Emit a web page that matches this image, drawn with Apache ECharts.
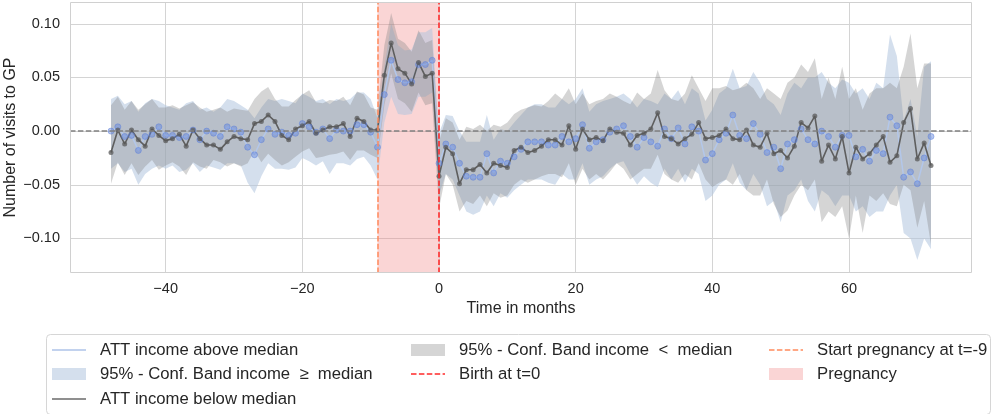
<!DOCTYPE html>
<html>
<head>
<meta charset="utf-8">
<script src="https://cdn.jsdelivr.net/npm/echarts@6/dist/echarts.min.js"></script>
<style>
  html, body { margin: 0; padding: 0; background: #fff; }
  #main { width: 994px; height: 414px; }
</style>
</head>
<body>
<div id="main"></div>
<script>
// months relative to birth, -48 .. 72
var firstMonth = -48, lastMonth = 72;
var months = [];
for (var m = firstMonth; m <= lastMonth; m++) months.push(m);

var xTicks = [-40, -20, 0, 20, 40, 60];
var yTicks = [-0.10, -0.05, 0.00, 0.05, 0.10];

// ATT income above median (blue)
var aboveAtt = [
  0.000, 0.004, -0.005, -0.004, -0.018, -0.005, -0.003, 0.004, -0.004, -0.004,
  -0.006, -0.005, 0.001, -0.008, 0.000, -0.002, -0.005, 0.004, 0.002, -0.001,
  -0.015, -0.022, -0.008, 0.002, -0.003, -0.001, -0.004, -0.002, 0.007, 0.004,
  -0.001, 0.002, -0.007, 0.001, 0.000, 0.000, 0.006, 0.006, -0.001, -0.015,
  0.034, 0.066, 0.048, 0.045, 0.046, 0.062, 0.062, 0.066, -0.030, -0.012,
  -0.015, -0.030, -0.042, -0.043, -0.043, -0.021, -0.039, -0.028, -0.030, -0.024,
  -0.017, -0.010, -0.010, -0.010, -0.013, -0.013, -0.005, -0.010, -0.007, 0.006,
  -0.016, -0.010, -0.008, -0.001, 0.002, 0.005, -0.005, -0.015, -0.006, -0.010,
  -0.014, 0.002, -0.007, 0.003, -0.012, 0.004, 0.000, -0.027, -0.021, -0.008,
  -0.002, 0.015, -0.004, -0.007, 0.007, -0.003, -0.020, -0.015, -0.035, -0.012,
  -0.008, 0.002, -0.008, -0.012, 0.000, -0.005, -0.015, -0.004, -0.004, -0.024,
  -0.017, -0.028, -0.018, -0.021, 0.013, 0.005, -0.043, -0.038, -0.049, -0.025,
  -0.005
];
var aboveHi = [
  0.030, 0.033, 0.025, 0.028, 0.018, 0.026, 0.030, 0.028, 0.024, 0.022,
  0.020, 0.026, 0.028, 0.020, 0.022, 0.018, 0.022, 0.030, 0.028, 0.024,
  0.020, 0.012, 0.022, 0.030, 0.028, 0.030, 0.028, 0.026, 0.035, 0.032,
  0.028, 0.030, 0.025, 0.030, 0.028, 0.030, 0.036, 0.036, 0.030, 0.012,
  0.060, 0.100, 0.080, 0.075, 0.076, 0.092, 0.092, 0.096, -0.002, 0.015,
  0.014, 0.000, -0.010, -0.010, -0.010, 0.015, -0.008, 0.002, 0.000, 0.008,
  0.015, 0.022, 0.025, 0.025, 0.022, 0.022, 0.030, 0.025, 0.030, 0.040,
  0.018, 0.025, 0.028, 0.030, 0.032, 0.035, 0.030, 0.022, 0.030, 0.028,
  0.025, 0.035, 0.030, 0.038, 0.025, 0.040, 0.035, 0.010, 0.020, 0.035,
  0.040, 0.058, 0.040, 0.042, 0.055, 0.045, 0.030, 0.025, 0.015, 0.035,
  0.045, 0.040, 0.050, 0.050, 0.055, 0.045, 0.040, 0.048, 0.045, 0.035,
  0.040, 0.030, 0.045, 0.040, 0.090, 0.070, 0.010, 0.030, -0.005, 0.060,
  0.065
];
var aboveLo = [
  -0.035, -0.030, -0.038, -0.035, -0.050, -0.040, -0.035, -0.032, -0.035, -0.032,
  -0.038, -0.036, -0.030, -0.038, -0.032, -0.034, -0.036, -0.030, -0.030, -0.032,
  -0.048, -0.058, -0.042, -0.030, -0.035, -0.035, -0.036, -0.034, -0.025, -0.028,
  -0.032, -0.028, -0.040, -0.030, -0.030, -0.032, -0.026, -0.024, -0.032, -0.045,
  0.008, 0.032, 0.016, 0.015, 0.016, 0.032, 0.032, 0.036, -0.060, -0.040,
  -0.045, -0.060, -0.075, -0.078, -0.075, -0.060, -0.070, -0.058, -0.062, -0.055,
  -0.050, -0.045, -0.045, -0.045, -0.048, -0.050, -0.040, -0.045, -0.045, -0.030,
  -0.050, -0.045, -0.042, -0.035, -0.030, -0.028, -0.040, -0.050, -0.042, -0.048,
  -0.052, -0.035, -0.045, -0.035, -0.048, -0.035, -0.040, -0.065, -0.060, -0.050,
  -0.045, -0.030, -0.048, -0.055, -0.040, -0.050, -0.070, -0.065, -0.085, -0.060,
  -0.055, -0.045, -0.065, -0.075, -0.055, -0.060, -0.070, -0.060, -0.060, -0.075,
  -0.070, -0.080, -0.075, -0.075, -0.060, -0.050, -0.095, -0.100, -0.120, -0.100,
  -0.110
];

// ATT income below median (grey)
var belowAtt = [
  -0.020, 0.001, -0.012, 0.001, -0.008, -0.014, 0.002, -0.004, -0.009, -0.007,
  -0.003, -0.014, 0.001, -0.007, -0.013, -0.013, -0.017, -0.010, -0.005, -0.007,
  -0.008, 0.007, 0.009, 0.015, 0.009, -0.004, -0.008, 0.002, 0.005, 0.009,
  -0.002, 0.001, 0.004, 0.004, 0.007, -0.005, 0.012, 0.009, 0.001, 0.001,
  0.052, 0.082, 0.058, 0.054, 0.044, 0.064, 0.051, 0.054, -0.042, -0.015,
  -0.021, -0.049, -0.036, -0.036, -0.031, -0.039, -0.030, -0.032, -0.034, -0.018,
  -0.015, -0.020, -0.018, -0.014, -0.008, -0.008, -0.013, 0.005, -0.017, 0.002,
  -0.008, -0.006, -0.009, 0.002, -0.001, -0.002, -0.013, -0.004, -0.002, 0.002,
  0.017, -0.005, -0.007, -0.012, -0.007, -0.003, 0.008, -0.007, -0.006, -0.004,
  0.002, -0.007, -0.008, 0.001, -0.013, -0.015, -0.002, -0.021, -0.018, -0.025,
  -0.014, 0.008, 0.003, 0.014, -0.028, -0.013, -0.026, -0.005, -0.039, -0.015,
  -0.026, -0.021, -0.013, -0.005, -0.029, -0.023, 0.008, 0.021, -0.026, -0.011,
  -0.032
];
var belowHi = [
  0.024, 0.032, 0.020, 0.028, 0.020, 0.025, 0.030, 0.022, 0.022, 0.024,
  0.021, 0.024, 0.027, 0.022, 0.018, 0.020, 0.022, 0.018, 0.021, 0.020,
  0.019, 0.030, 0.037, 0.041, 0.030, 0.023, 0.023, 0.029, 0.034, 0.038,
  0.027, 0.026, 0.029, 0.028, 0.032, 0.024, 0.037, 0.034, 0.022, 0.020,
  0.080, 0.110, 0.086, 0.082, 0.074, 0.094, 0.082, 0.085, -0.010, 0.012,
  0.008, -0.008, 0.004, 0.002, 0.006, 0.000, 0.006, 0.004, 0.008, 0.016,
  0.020, 0.022, 0.024, 0.023, 0.028, 0.035, 0.030, 0.040, 0.025, 0.035,
  0.025, 0.028, 0.030, 0.035, 0.032, 0.028, 0.025, 0.036, 0.030, 0.035,
  0.057, 0.038, 0.030, 0.028, 0.035, 0.052, 0.040, 0.028, 0.040, 0.040,
  0.042, 0.038, 0.040, 0.045, 0.040, 0.030, 0.040, 0.035, 0.030, 0.045,
  0.050, 0.062, 0.055, 0.068, 0.030, 0.050, 0.030, 0.060, 0.030, 0.040,
  0.020, 0.035, 0.040, 0.040, 0.045, 0.040, 0.060, 0.091, 0.040, 0.063,
  0.063
];
var belowLo = [
  -0.049, -0.029, -0.041, -0.030, -0.041, -0.033, -0.027, -0.036, -0.032, -0.029,
  -0.033, -0.041, -0.029, -0.033, -0.035, -0.027, -0.029, -0.033, -0.030, -0.033,
  -0.030, -0.018, -0.029, -0.021, -0.027, -0.032, -0.029, -0.024, -0.019, -0.016,
  -0.025, -0.024, -0.022, -0.021, -0.019, -0.027, -0.018, -0.018, -0.022, -0.025,
  0.024, 0.054, 0.030, 0.026, 0.018, 0.036, 0.024, 0.026, -0.072, -0.040,
  -0.050, -0.075, -0.065, -0.068, -0.060, -0.070, -0.058, -0.062, -0.060, -0.050,
  -0.045, -0.048, -0.045, -0.042, -0.040, -0.040, -0.043, -0.030, -0.050, -0.035,
  -0.045, -0.040, -0.045, -0.038, -0.030, -0.035, -0.045, -0.040, -0.035, -0.035,
  -0.022, -0.040, -0.045, -0.048, -0.040, -0.045, -0.030, -0.045, -0.052, -0.048,
  -0.045, -0.050, -0.040, -0.055, -0.060, -0.060, -0.045, -0.068, -0.080, -0.074,
  -0.060, -0.050, -0.055, -0.045, -0.085, -0.075, -0.080, -0.070, -0.100, -0.060,
  -0.095, -0.060, -0.065, -0.058, -0.068, -0.070, -0.050, -0.055, -0.090, -0.065,
  -0.106
];

var pregStart = -9, birth = 0;

var FONT = '"Liberation Sans", Arial, sans-serif';
var blueFill = 'rgba(176,196,222,0.55)';
var greyFill = 'rgba(128,128,128,0.33)';
var pinkFill = 'rgba(240,128,128,0.33)';

function pairs(vals) {
  return months.map(function (t, i) { return [t, vals[i]]; });
}

// one polygon for a whole confidence band
function bandSeries(name, lo, hi, fill) {
  return {
    name: name,
    type: 'custom',
    silent: true,
    data: months.map(function (t, i) { return [t, lo[i], hi[i]]; }),
    encode: { x: 0, y: [1, 2] },
    renderItem: function (params, api) {
      if (params.dataIndex !== 0) return null;
      var pts = [];
      for (var i = 0; i < months.length; i++) pts.push(api.coord([months[i], hi[i]]));
      for (var j = months.length - 1; j >= 0; j--) pts.push(api.coord([months[j], lo[j]]));
      return { type: 'polygon', shape: { points: pts }, style: { fill: fill } };
    }
  };
}

function fmt(v) {
  return v.toFixed(2).replace('-', '\u2212');
}

// legend (matplotlib style, 3 columns, column-major)
var LX = [52, 411, 769];
var LY = [350, 374, 399];
var legendItems = [
  { col: 0, row: 0, kind: 'line', color: '#aec3e8', text: 'ATT income above median' },
  { col: 0, row: 1, kind: 'patch', color: blueFill, text: '95% - Conf. Band income  \u2265  median' },
  { col: 0, row: 2, kind: 'line', color: '#6a6a6a', text: 'ATT income below median' },
  { col: 1, row: 0, kind: 'patch', color: greyFill, text: '95% - Conf. Band income  <  median' },
  { col: 1, row: 1, kind: 'dash', color: '#ff2a2a', text: 'Birth at t=0' },
  { col: 2, row: 0, kind: 'dash', color: '#ff8a5c', text: 'Start pregnancy at t=-9' },
  { col: 2, row: 1, kind: 'patch', color: pinkFill, text: 'Pregnancy' }
];
var legendGraphics = [{
  type: 'rect', silent: true,
  shape: { x: 46.5, y: 334.5, width: 944, height: 80, r: 4 },
  style: { fill: '#fff', stroke: '#d6d6d6', lineWidth: 1 }
}];
legendItems.forEach(function (it) {
  var x = LX[it.col], y = LY[it.row];
  if (it.kind === 'patch') {
    legendGraphics.push({ type: 'rect', silent: true,
      shape: { x: x, y: y - 6, width: 34, height: 12 }, style: { fill: it.color } });
  } else {
    legendGraphics.push({ type: 'line', silent: true,
      shape: { x1: x, y1: y, x2: x + 34, y2: y },
      style: { stroke: it.color, lineWidth: 1.5, lineDash: it.kind === 'dash' ? [5.5, 2.4] : null } });
  }
  legendGraphics.push({ type: 'text', silent: true, x: x + 48, y: y,
    style: { text: it.text, font: '16.7px ' + FONT, fill: '#262626', verticalAlign: 'middle' } });
});

var chart = echarts.init(document.getElementById('main'));

var option = {
  animation: false,
  backgroundColor: '#fff',
  grid: { left: 70, right: 22, top: 2, bottom: 141, outerBoundsMode: 'none' },
  xAxis: {
    type: 'value',
    min: -54, max: 78,
    name: 'Time in months',
    nameLocation: 'middle',
    nameGap: 28,
    nameMoveOverlap: false,
    nameTextStyle: { fontSize: 16, fontFamily: FONT, color: '#262626' },
    axisLine: { show: false },
    axisTick: { show: false, customValues: xTicks },
    axisLabel: { customValues: xTicks, formatter: function (v) { return String(v).replace('-', '\u2212'); },
      fontSize: 14.5, fontFamily: FONT, color: '#262626', margin: 8 },
    splitLine: { show: true, lineStyle: { color: '#d4d4d4', width: 1 } }
  },
  yAxis: {
    type: 'value',
    min: -0.1322, max: 0.1203,
    name: 'Number of visits to GP',
    nameLocation: 'middle',
    nameGap: 51,
    nameMoveOverlap: false,
    nameTextStyle: { fontSize: 16, fontFamily: FONT, color: '#262626' },
    axisLine: { show: false },
    axisTick: { show: false, customValues: yTicks },
    axisLabel: { customValues: yTicks, formatter: fmt,
      fontSize: 14.5, fontFamily: FONT, color: '#262626', margin: 10 },
    splitLine: { show: true, lineStyle: { color: '#d4d4d4', width: 1 } }
  },
  graphic: [
    // plot frame (spines)
    { type: 'rect', silent: true, z: 100,
      shape: { x: 70.5, y: 2.5, width: 901, height: 270 },
      style: { fill: null, stroke: '#d0d0d0', lineWidth: 1 } }
  ].concat(legendGraphics),
  series: [
    {
      // carrier for the pregnancy span, drawn first so it sits at the back
      name: 'Pregnancy',
      type: 'line',
      data: pairs(belowAtt),
      showSymbol: false,
      silent: true,
      lineStyle: { opacity: 0 },
      markArea: {
        silent: true,
        itemStyle: { color: pinkFill },
        data: [[{ xAxis: pregStart }, { xAxis: birth }]]
      }
    },
    bandSeries('95% - Conf. Band income >= median', aboveLo, aboveHi, blueFill),
    bandSeries('95% - Conf. Band income < median', belowLo, belowHi, greyFill),
    {
      name: 'ATT income above median',
      type: 'line',
      data: pairs(aboveAtt),
      symbol: 'circle',
      symbolSize: 6,
      lineStyle: { color: '#b3c7ea', width: 1.5 },
      itemStyle: { color: 'rgba(95,130,220,0.45)', borderColor: 'rgba(95,130,220,0.5)', borderWidth: 1 }
    },
    {
      name: 'ATT income below median',
      type: 'line',
      data: pairs(belowAtt),
      symbol: 'circle',
      symbolSize: 5,
      lineStyle: { color: '#5e5e5e', width: 1.6 },
      itemStyle: { color: 'rgba(90,90,90,0.75)' },
      markLine: {
        silent: true,
        symbol: 'none',
        label: { show: false },
        data: [
          { yAxis: 0, lineStyle: { color: '#808080', type: [5.5, 2.4], width: 1.5 } },
          { xAxis: pregStart, lineStyle: { color: '#ff8a5c', type: [5.5, 2.4], width: 1.5 } },
          { xAxis: birth, lineStyle: { color: '#ff2020', type: [5.5, 2.4], width: 1.5 } }
        ]
      }
    }
  ]
};

chart.setOption(option);
</script>
</body>
</html>
